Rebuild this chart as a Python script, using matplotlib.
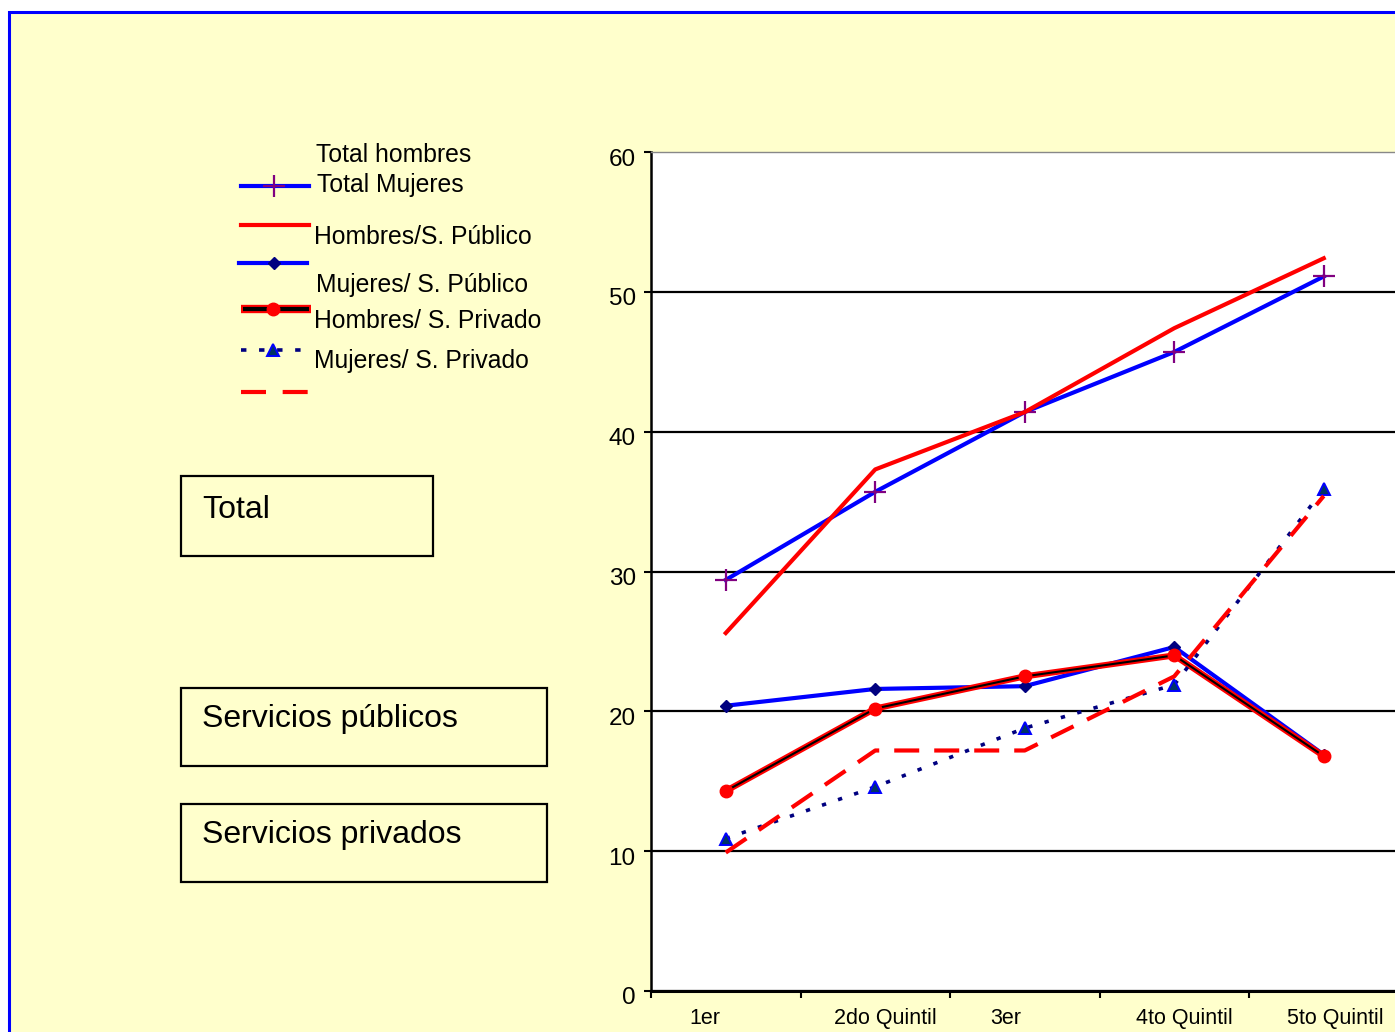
import numpy as np
import matplotlib
matplotlib.use('Agg')
import matplotlib.pyplot as plt
from matplotlib.lines import Line2D
from matplotlib.patches import Rectangle
from matplotlib.transforms import ScaledTranslation

plt.rcParams['font.family'] = ['Liberation Sans', 'DejaVu Sans']

# data
quintiles = ['1er', '2do Quintil', '3er', '4to Quintil', '5to Quintil']
total_h = [29.4, 35.7, 41.4, 45.7, 51.1]
hombres_pub = [25.6, 37.3, 41.4, 47.4, 52.4]
mujeres_pub = [20.4, 21.6, 21.8, 24.6, 16.9]
hombres_priv = [14.3, 20.2, 22.5, 24.0, 16.8]
mujeres_priv = [10.9, 14.6, 18.8, 21.9, 35.9]
total_m = [9.9, 17.2, 17.2, 22.5, 35.4]

legend_labels = ['Total hombres', 'Total Mujeres', 'Hombres/S. Público',
                 'Mujeres/ S. Público', 'Hombres/ S. Privado', 'Mujeres/ S. Privado']
box_labels = ['Total', 'Servicios públicos', 'Servicios privados']

W, H = 1395, 1032
YELLOW = '#FFFFCC'
fig = plt.figure(figsize=(W / 100, H / 100), dpi=100)
fig.patch.set_facecolor('white')


def fx(x):
    return x / W


def fy(y):
    return 1 - y / H


# yellow background with blue border (runs off the right/bottom edge)
fig.add_artist(Rectangle((fx(9), fy(1100)), fx(1500), (1100 - 12) / H, transform=fig.transFigure,
                         facecolor=YELLOW, edgecolor='#0000FF', lw=2.2, zorder=0))

ax = fig.add_axes([fx(651), fy(991), fx(1398.5 - 651), (991 - 152) / H])
ax.set_facecolor('white')
x = np.arange(len(quintiles)) + 0.5

ax.plot(x, total_h, color='#0000FF', lw=3, marker='+', ms=16, mec='#800080', mew=1.6, zorder=3)
ax.plot(x, hombres_pub, color='#FF0000', lw=3, zorder=3)
ax.plot(x, mujeres_pub, color='#0000FF', lw=3, marker='D', ms=6, mfc='#000080', mec='#000080', zorder=3)
ax.plot(x, hombres_priv, color='#FF0000', lw=4.4, solid_capstyle='butt', zorder=4)
ax.plot(x, hombres_priv, color='black', lw=1.5, marker='o', ms=9, mfc='#FF0000', mec='#FF0000', zorder=4)
ax.plot(x, mujeres_priv, color='#000080', lw=2.6, ls=(0, (1.2, 3.5)), marker='^', ms=8,
        mfc='#003366', mec='#0000FF', mew=1.4, zorder=5)
ax.plot(x, total_m, color='#FF0000', lw=3, ls=(0, (6, 3.6)), zorder=5)

ax.set_xlim(0, 5)
ax.set_ylim(0, 60)
ax.set_yticks(range(0, 61, 10))
ax.set_xticks(range(6))
ax.set_xticklabels([])
# category labels sit a bit off the centres in the original
lab_off = [-0.14, 0.07, -0.13, 0.07, 0.08]
ax.set_xticks(x + np.array(lab_off), minor=True)
ax.set_xticklabels(quintiles, minor=True, fontsize=15.5)
ax.tick_params(axis='x', which='minor', length=0, pad=12)
ax.tick_params(axis='x', which='major', length=5, width=1.5, direction='out')
ax.tick_params(axis='y', length=5, width=1.5, labelsize=17.5, pad=6)
shift = ScaledTranslation(0, -5 / 100, fig.dpi_scale_trans)
for t in ax.get_yticklabels():
    t.set_transform(t.get_transform() + shift)

ax.yaxis.grid(True, color='black', lw=1.6)
ax.get_ygridlines()[-1].set_visible(False)
ax.set_axisbelow(True)
ax.spines['right'].set_visible(False)
ax.spines['top'].set_color('#888888')
ax.spines['top'].set_linewidth(1)
ax.spines['left'].set_linewidth(1.8)
ax.spines['bottom'].set_linewidth(2.2)

# hand drawn legend, entries misaligned like the original
tf = fig.transFigure
lab_pos = [(316, 162), (317, 192), (314, 244), (316, 292), (314, 328), (314, 368)]
for lab, (lx, ly) in zip(legend_labels, lab_pos):
    fig.text(fx(lx), fy(ly), lab, fontsize=17.8, va='baseline', ha='left')


def handle(y, x0, x1, **kw):
    fig.add_artist(Line2D([fx(x0), fx(x1)], [fy(y), fy(y)], transform=tf, **kw))


def hmark(y, xm, **kw):
    fig.add_artist(Line2D([fx(xm)], [fy(y)], transform=tf, ls='none', **kw))


handle(186, 241, 309, color='#0000FF', lw=3)
hmark(186, 274, marker='+', ms=16, mec='#800080', mew=1.6)
handle(225, 241, 309, color='#FF0000', lw=3)
handle(263, 239, 307, color='#0000FF', lw=3)
hmark(263, 274, marker='D', ms=6, mfc='#000080', mec='#000080')
handle(309, 241, 311, color='#FF0000', lw=6, solid_capstyle='butt')
handle(309, 243, 309, color='black', lw=3, solid_capstyle='butt')
hmark(309, 273, marker='o', ms=9, mfc='#FF0000', mec='#FF0000')
handle(350, 241, 305, color='#000080', lw=2.6, ls=(0, (1.5, 3.5)))
hmark(350, 273, marker='^', ms=8, mfc='#003366', mec='#0000FF', mew=1.4)
handle(392, 241, 309, color='#FF0000', lw=3, ls=(0, (6, 4)), solid_capstyle='butt', dash_capstyle='butt')

# text boxes
boxes = [(181, 476, 433, 556, 518), (181, 688, 547, 766, 727), (181, 804, 547, 882, 843)]
for lab, (x0, y0, x1, y1, base) in zip(box_labels, boxes):
    fig.add_artist(Rectangle((fx(x0), fy(y1)), fx(x1 - x0), (y1 - y0) / H, transform=tf,
                             facecolor='none', edgecolor='black', lw=1.6))
    fig.text(fx(202), fy(base), lab, fontsize=23, va='baseline', ha='left')

fig.savefig('out.png', dpi=100, facecolor=fig.get_facecolor())
